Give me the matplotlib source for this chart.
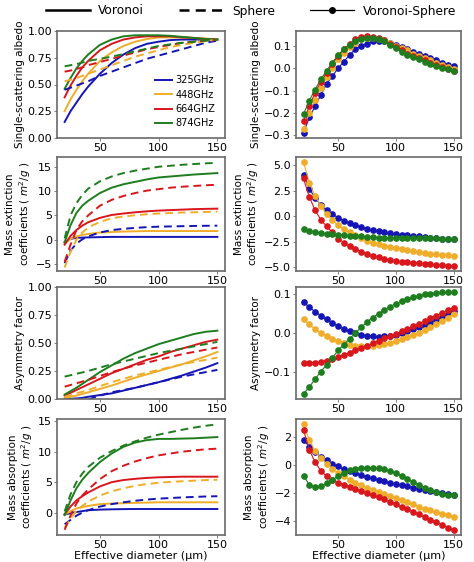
import matplotlib
matplotlib.use("Agg")
import matplotlib.pyplot as plt
from matplotlib.lines import Line2D

# x grids
x_curve = [20, 25, 30, 35, 40, 50, 60, 70, 80, 90, 100, 110, 120, 130, 140, 150]
x_diff = list(range(20, 155, 5))

freqs = ["325GHz", "448GHz", "664GHZ", "874GHz"]
colors = ["#1515b5", "#f0ad2a", "#d8161c", "#1e7d1e"]

# single-scattering albedo
ssa_vor = [
    [0.15, 0.25, 0.33, 0.41, 0.48, 0.60, 0.70, 0.78, 0.84, 0.88, 0.90, 0.915, 0.92, 0.92, 0.92, 0.92],
    [0.25, 0.36, 0.45, 0.53, 0.60, 0.72, 0.80, 0.86, 0.90, 0.925, 0.94, 0.94, 0.94, 0.935, 0.93, 0.92],
    [0.38, 0.49, 0.58, 0.66, 0.72, 0.82, 0.88, 0.92, 0.94, 0.95, 0.95, 0.95, 0.94, 0.935, 0.925, 0.92],
    [0.46, 0.56, 0.65, 0.72, 0.78, 0.87, 0.92, 0.95, 0.96, 0.96, 0.96, 0.955, 0.945, 0.935, 0.925, 0.92],
]
ssa_sph = [
    [0.45, 0.47, 0.49, 0.51, 0.53, 0.58, 0.62, 0.66, 0.70, 0.74, 0.77, 0.80, 0.83, 0.86, 0.89, 0.91],
    [0.53, 0.545, 0.56, 0.58, 0.60, 0.64, 0.68, 0.72, 0.76, 0.79, 0.82, 0.85, 0.87, 0.89, 0.905, 0.92],
    [0.62, 0.63, 0.645, 0.66, 0.68, 0.71, 0.74, 0.77, 0.80, 0.83, 0.85, 0.87, 0.89, 0.90, 0.91, 0.92],
    [0.67, 0.68, 0.69, 0.705, 0.72, 0.74, 0.76, 0.785, 0.81, 0.835, 0.86, 0.875, 0.89, 0.90, 0.91, 0.92],
]
ssa_diff = [
    [-0.29, -0.22, -0.17, -0.12, -0.07, -0.035, 0.0, 0.03, 0.06, 0.085, 0.10, 0.11, 0.12, 0.12, 0.12,
     0.115, 0.105, 0.095, 0.085, 0.075, 0.065, 0.055, 0.045, 0.035, 0.025, 0.015, 0.008],
    [-0.27, -0.20, -0.14, -0.09, -0.04, 0.0, 0.04, 0.07, 0.095, 0.115, 0.13, 0.135, 0.135, 0.13, 0.125,
     0.115, 0.10, 0.09, 0.08, 0.065, 0.055, 0.045, 0.035, 0.025, 0.015, 0.005, -0.005],
    [-0.235, -0.17, -0.11, -0.06, -0.02, 0.02, 0.055, 0.085, 0.11, 0.13, 0.14, 0.145, 0.14, 0.135, 0.125,
     0.11, 0.095, 0.08, 0.065, 0.055, 0.045, 0.035, 0.025, 0.015, 0.005, -0.005, -0.01],
    [-0.205, -0.145, -0.095, -0.05, -0.01, 0.025, 0.06, 0.085, 0.105, 0.12, 0.13, 0.135, 0.135, 0.13, 0.12,
     0.105, 0.09, 0.075, 0.06, 0.05, 0.04, 0.03, 0.02, 0.01, 0.0, -0.005, -0.01],
]

# mass extinction coefficients
ext_vor = [
    [-0.5, 0.2, 0.4, 0.45, 0.5, 0.55, 0.6, 0.6, 0.6, 0.6, 0.6, 0.6, 0.6, 0.6, 0.6, 0.6],
    [-0.8, 0.2, 0.7, 1.0, 1.2, 1.5, 1.6, 1.7, 1.75, 1.8, 1.8, 1.8, 1.8, 1.8, 1.8, 1.8],
    [-1.0, 0.8, 2.0, 2.9, 3.6, 4.5, 5.1, 5.4, 5.65, 5.85, 6.0, 6.1, 6.2, 6.3, 6.35, 6.4],
    [-0.5, 3.0, 5.5, 7.0, 8.0, 9.6, 10.7, 11.4, 11.9, 12.4, 12.8, 13.0, 13.2, 13.4, 13.55, 13.7],
]
ext_sph = [
    [-4.8, -2.2, -0.8, 0.1, 0.7, 1.5, 2.0, 2.25, 2.45, 2.6, 2.7, 2.75, 2.8, 2.85, 2.88, 2.9],
    [-5.7, -2.5, 0.0, 1.5, 2.5, 3.7, 4.4, 4.8, 5.05, 5.25, 5.4, 5.5, 5.6, 5.65, 5.72, 5.8],
    [-4.5, -1.0, 2.0, 3.8, 5.0, 7.0, 8.2, 9.0, 9.6, 10.1, 10.4, 10.7, 10.9, 11.05, 11.2, 11.3],
    [0.3, 5.0, 7.5, 9.2, 10.5, 12.0, 13.0, 13.7, 14.2, 14.6, 15.0, 15.2, 15.4, 15.55, 15.7, 15.8],
]
ext_diff = [
    [4.0, 2.7, 1.8, 1.1, 0.6, 0.2, -0.15, -0.45, -0.7, -0.9, -1.1, -1.25, -1.4, -1.5, -1.6,
     -1.7, -1.8, -1.85, -1.9, -1.95, -2.0, -2.05, -2.1, -2.15, -2.2, -2.22, -2.25],
    [5.3, 3.3, 2.0, 1.0, 0.2, -0.4, -0.9, -1.3, -1.6, -1.9, -2.15, -2.4, -2.6, -2.75, -2.9,
     -3.05, -3.15, -3.25, -3.35, -3.45, -3.55, -3.6, -3.7, -3.75, -3.8, -3.85, -3.9],
    [3.7, 1.9, 0.6, -0.35, -1.0, -1.6, -2.2, -2.6, -2.95, -3.25, -3.5, -3.7, -3.9, -4.05, -4.2,
     -4.3, -4.4, -4.5, -4.55, -4.6, -4.65, -4.7, -4.75, -4.8, -4.82, -4.85, -4.88],
    [-1.3, -1.45, -1.55, -1.65, -1.75, -1.8, -1.85, -1.9, -1.95, -2.0, -2.0, -2.05, -2.05, -2.1, -2.1,
     -2.1, -2.12, -2.15, -2.15, -2.16, -2.17, -2.18, -2.18, -2.19, -2.2, -2.2, -2.2],
]

# asymmetry factor
asy_vor = [
    [0.0, 0.002, 0.005, 0.01, 0.02, 0.035, 0.05, 0.075, 0.1, 0.125, 0.15, 0.18, 0.21, 0.245, 0.28, 0.32],
    [0.01, 0.02, 0.03, 0.045, 0.06, 0.09, 0.12, 0.155, 0.19, 0.22, 0.25, 0.28, 0.31, 0.345, 0.38, 0.42],
    [0.03, 0.055, 0.08, 0.105, 0.13, 0.18, 0.23, 0.27, 0.31, 0.35, 0.38, 0.42, 0.45, 0.48, 0.51, 0.53],
    [0.04, 0.07, 0.1, 0.135, 0.17, 0.24, 0.3, 0.36, 0.41, 0.45, 0.49, 0.52, 0.55, 0.58, 0.6, 0.61],
]
asy_sph = [
    [-0.08, -0.06, -0.04, -0.02, -0.005, 0.03, 0.06, 0.08, 0.1, 0.125, 0.15, 0.175, 0.2, 0.22, 0.24, 0.26],
    [0.02, 0.035, 0.05, 0.065, 0.08, 0.115, 0.15, 0.18, 0.21, 0.235, 0.26, 0.285, 0.31, 0.33, 0.35, 0.37],
    [0.11, 0.125, 0.14, 0.155, 0.17, 0.205, 0.24, 0.27, 0.3, 0.325, 0.35, 0.375, 0.4, 0.42, 0.44, 0.46],
    [0.2, 0.212, 0.225, 0.237, 0.25, 0.28, 0.31, 0.335, 0.36, 0.385, 0.41, 0.43, 0.45, 0.47, 0.49, 0.51],
]
asy_diff = [
    [0.08, 0.067, 0.055, 0.045, 0.035, 0.026, 0.018, 0.01, 0.004, 0.0, -0.004, -0.007, -0.009, -0.01,
     -0.009, -0.007, -0.004, 0.0, 0.005, 0.01, 0.015, 0.021, 0.027, 0.034, 0.041, 0.049, 0.058],
    [0.035, 0.022, 0.01, 0.0, -0.008, -0.015, -0.021, -0.026, -0.03, -0.033, -0.035, -0.035, -0.034,
     -0.032, -0.029, -0.025, -0.021, -0.016, -0.011, -0.005, 0.001, 0.008, 0.015, 0.023, 0.031, 0.04, 0.05],
    [-0.079, -0.078, -0.077, -0.075, -0.072, -0.068, -0.063, -0.057, -0.051, -0.045, -0.039, -0.033,
     -0.027, -0.02, -0.014, -0.008, -0.002, 0.004, 0.01, 0.017, 0.024, 0.031, 0.038, 0.045, 0.052, 0.059, 0.066],
    [-0.158, -0.14, -0.12, -0.1, -0.083, -0.065, -0.045, -0.03, -0.015, 0.0, 0.015, 0.028, 0.04, 0.05,
     0.06, 0.068, 0.076, 0.082, 0.088, 0.093, 0.097, 0.1, 0.102, 0.104, 0.105, 0.106, 0.106],
]

# mass absorption coefficients
abs_vor = [
    [-0.3, -0.1, 0.1, 0.25, 0.4, 0.5, 0.55, 0.58, 0.6, 0.6, 0.6, 0.6, 0.6, 0.6, 0.6, 0.6],
    [-0.3, 0.2, 0.7, 0.9, 1.1, 1.4, 1.5, 1.55, 1.6, 1.65, 1.7, 1.7, 1.7, 1.7, 1.7, 1.7],
    [-0.3, 1.0, 2.0, 2.7, 3.3, 4.3, 5.0, 5.35, 5.55, 5.7, 5.8, 5.85, 5.9, 5.9, 5.9, 5.9],
    [-0.4, 2.0, 4.0, 5.4, 6.5, 8.3, 9.7, 10.8, 11.5, 11.9, 12.1, 12.1, 12.15, 12.2, 12.3, 12.4],
]
abs_sph = [
    [-1.9, -1.2, -0.5, 0.0, 0.4, 1.0, 1.4, 1.7, 1.95, 2.15, 2.3, 2.4, 2.5, 2.58, 2.65, 2.7],
    [-2.5, -1.0, 0.3, 1.1, 1.8, 2.8, 3.5, 4.0, 4.4, 4.7, 4.9, 5.05, 5.15, 5.25, 5.35, 5.4],
    [-2.8, -0.5, 1.5, 2.8, 3.8, 5.5, 6.8, 7.7, 8.4, 8.95, 9.4, 9.7, 10.0, 10.2, 10.4, 10.5],
    [0.2, 3.0, 5.0, 6.4, 7.5, 9.0, 10.1, 11.0, 11.7, 12.3, 12.8, 13.2, 13.6, 13.95, 14.25, 14.5],
]
abs_diff = [
    [1.8, 1.3, 0.9, 0.6, 0.35, 0.1, -0.1, -0.3, -0.45, -0.6, -0.72, -0.85, -0.95, -1.05, -1.15,
     -1.25, -1.35, -1.45, -1.52, -1.6, -1.68, -1.75, -1.83, -1.9, -1.97, -2.04, -2.1],
    [2.9, 1.8, 1.0, 0.5, 0.1, -0.25, -0.55, -0.8, -1.05, -1.25, -1.45, -1.6, -1.75, -1.9, -2.05,
     -2.2, -2.35, -2.5, -2.65, -2.8, -2.95, -3.1, -3.22, -3.35, -3.47, -3.58, -3.7],
    [2.5, 1.1, 0.2, -0.4, -0.8, -1.05, -1.25, -1.4, -1.55, -1.7, -1.85, -2.0, -2.15, -2.3, -2.45,
     -2.62, -2.8, -2.98, -3.15, -3.33, -3.5, -3.7, -3.88, -4.05, -4.25, -4.45, -4.6],
    [-0.75, -1.4, -1.55, -1.5, -1.3, -1.05, -0.8, -0.55, -0.38, -0.25, -0.2, -0.18, -0.18, -0.22, -0.3,
     -0.42, -0.58, -0.78, -0.98, -1.2, -1.42, -1.62, -1.8, -1.95, -2.05, -2.1, -2.12],
]

ylabels = [
    "Single-scattering albedo",
    "Mass extinction\ncoefficients ( $m^2/g$ )",
    "Asymmetry factor",
    "Mass absorption\ncoefficients ( $m^2/g$ )",
]
rows = [
    (ssa_vor, ssa_sph, ssa_diff),
    (ext_vor, ext_sph, ext_diff),
    (asy_vor, asy_sph, asy_diff),
    (abs_vor, abs_sph, abs_diff),
]

W, H = 474, 562
fig = plt.figure(figsize=(W / 100, H / 100), dpi=100)

# (top px, bottom px) of each row
row_px = [(31, 138), (157, 271), (287, 399), (419, 535)]
col_px = [(57, 225), (296, 461)]


def style_axis(ax):
    for s in ax.spines.values():
        s.set_color("#6a6a6a")
        s.set_linewidth(1.2)
    ax.tick_params(labelsize=8, length=2, width=0.6, color="#6a6a6a", pad=1.5)
    ax.set_xticks([50, 100, 150])


for r, (vor, sph, diff) in enumerate(rows):
    top, bot = row_px[r]
    axl = fig.add_axes([col_px[0][0] / W, 1 - bot / H, (col_px[0][1] - col_px[0][0]) / W, (bot - top) / H])
    axr = fig.add_axes([col_px[1][0] / W, 1 - bot / H, (col_px[1][1] - col_px[1][0]) / W, (bot - top) / H])

    for i in range(4):
        axl.plot(x_curve, vor[i], color=colors[i], lw=1.4, label=freqs[i])
    for i in range(4):
        axl.plot(x_curve, sph[i], color=colors[i], lw=1.4, ls=(0, (4, 2.5)))
    for i in range(4):
        axr.plot(x_diff, diff[i], color=colors[i], lw=0.8, marker="o", ms=3.8)

    for ax in (axl, axr):
        style_axis(ax)
        ax.set_ylabel(ylabels[r], fontsize=7.5, labelpad=2, linespacing=1.15)

    if r in (0, 2):
        axl.set_ylim(0, 1)
        axl.set_yticks([0, 0.25, 0.5, 0.75, 1.0])
    if r == 0:
        axl.legend(loc="lower right", frameon=False, fontsize=7, handlelength=1.8,
                   labelspacing=0.45, borderaxespad=0.6, handletextpad=0.3)
        axr.set_yticks([-0.3, -0.2, -0.1, 0.0, 0.1])
    if r == 1:
        axl.set_ylim(-6.4, 17)
        axl.set_yticks([-5, 0, 5, 10, 15])
    if r == 2:
        axr.set_yticks([-0.1, 0.0, 0.1])
    if r == 3:
        axl.set_yticks([0, 5, 10, 15])
        axr.set_yticks([-4, -2, 0, 2])
        axl.set_xlabel("Effective diameter (μm)", fontsize=8, labelpad=1)
        axr.set_xlabel("Effective diameter (μm)", fontsize=8, labelpad=1)

handles = [
    Line2D([], [], color="black", lw=1.8),
    Line2D([], [], color="black", lw=1.8, ls=(0, (4, 2.5))),
    Line2D([], [], color="black", lw=0.9, marker="o", ms=4),
]
fig.legend(handles, ["Voronoi", "Sphere", "Voronoi-Sphere"], loc="center",
           bbox_to_anchor=(251 / W, 1 - 11 / H), ncol=3, frameon=False, fontsize=8.8,
           handlelength=3.6, columnspacing=2.9, handletextpad=0.7)

fig.savefig("out.png", dpi=100)
